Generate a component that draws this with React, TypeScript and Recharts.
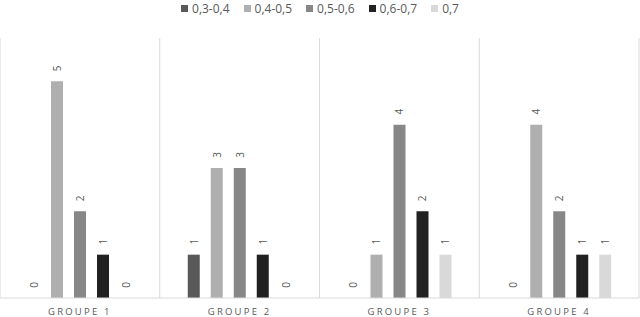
import { BarChart, Bar, XAxis, YAxis, CartesianGrid, Legend, LabelList } from "recharts";

const groups = ["GROUPE 1", "GROUPE 2", "GROUPE 3", "GROUPE 4"];
const seriesNames = ["0,3-0,4", "0,4-0,5", "0,5-0,6", "0,6-0,7", "0,7"];
const seriesColors = ["#595959", "#afafaf", "#878787", "#212121", "#d9d9d9"];
const s1 = [0, 1, 0, 0];
const s2 = [5, 3, 1, 4];
const s3 = [2, 3, 4, 2];
const s4 = [1, 1, 2, 1];
const s5 = [0, 0, 1, 1];
const seriesValues = [s1, s2, s3, s4, s5];
const yTicks = [0, 1, 2, 3, 4, 5, 6];

const data = groups.map((g, i) => {
  const row: Record<string, string | number> = { group: g };
  seriesNames.forEach((n, k) => {
    row[n] = seriesValues[k][i];
  });
  return row;
});

const FONT = "'Open Sans', 'Liberation Sans', sans-serif";

function RotatedLabel(props: any) {
  const { x, y, width, value } = props;
  const cx = Number(x) + Number(width) / 2;
  const cy = Number(y) - 13;
  return (
    <text
      x={cx}
      y={cy}
      transform={`rotate(-90, ${cx}, ${cy})`}
      textAnchor="middle"
      dominantBaseline="central"
      fontSize={10}
      fontFamily={FONT}
      fill="#595959"
    >
      {value}
    </text>
  );
}

function LegendContent() {
  return (
    <div
      style={{
        display: "flex",
        justifyContent: "center",
        gap: 14,
        fontFamily: FONT,
        fontSize: 12,
        color: "#595959",
        lineHeight: "17px",
        whiteSpace: "nowrap",
      }}
    >
      {seriesNames.map((n, k) => (
        <span key={n} style={{ display: "flex", alignItems: "center", flexShrink: 0 }}>
          <span
            style={{
              width: 7,
              height: 7,
              background: seriesColors[k],
              marginRight: 4,
              display: "inline-block",
            }}
          />
          {n}
        </span>
      ))}
    </div>
  );
}

export default function App() {
  return (
    <div style={{ position: "absolute", left: 0, top: 0, background: "#fff" }}>
      <BarChart
        width={640}
        height={317}
        data={data}
        margin={{ top: 21, right: 1, bottom: 0, left: 0 }}
        barSize={12}
        barGap={11}
      >
        <CartesianGrid
          horizontal={false}
          stroke="#d9d9d9"
          verticalCoordinatesGenerator={({ offset }: any) =>
            [...groups.map((_, i) => i), groups.length].map(
              (i) => offset.left + (offset.width * i) / groups.length
            )
          }
        />
        <XAxis
          dataKey="group"
          height={19}
          axisLine={{ stroke: "#d9d9d9" }}
          tickLine={false}
          tick={{ fill: "#595959", fontSize: 9.5, fontFamily: FONT, letterSpacing: 2.2 }}
          tickMargin={4}
        />
        <YAxis hide domain={[0, 6]} ticks={yTicks} />
        <Legend
          verticalAlign="top"
          height={17}
          content={<LegendContent />}
          wrapperStyle={{ top: 0, left: 0, width: 640 }}
        />
        {seriesNames.map((n, k) => (
          <Bar
            key={n}
            dataKey={n}
            fill={seriesColors[k]}
            minPointSize={0.01}
            isAnimationActive={false}
          >
            <LabelList dataKey={n} content={<RotatedLabel />} />
          </Bar>
        ))}
      </BarChart>
    </div>
  );
}
